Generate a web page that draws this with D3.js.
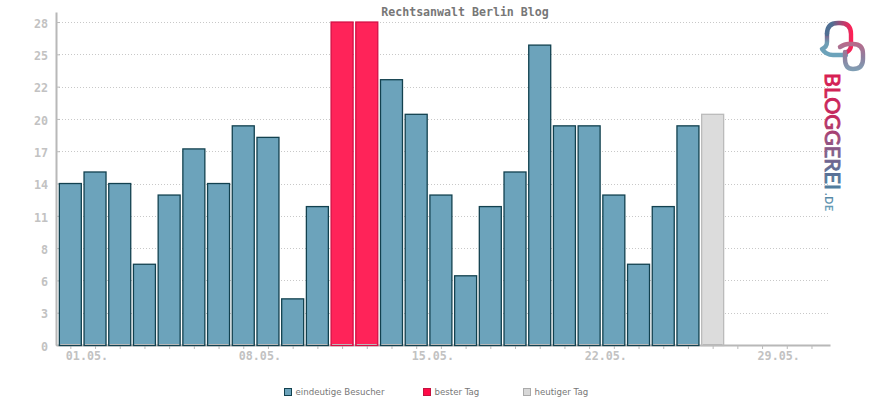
<!DOCTYPE html>
<html>
<head>
<meta charset="utf-8">
<title>Rechtsanwalt Berlin Blog</title>
<script src="https://cdn.jsdelivr.net/npm/d3@7"></script>
<style>
  body { margin: 0; background: #fff; }
  svg { display: block; }
  .tickText { font-family: "DejaVu Sans Mono", monospace; font-weight: bold; font-size: 11.7px; fill: #c2c2c2; }
  .legendText { font-family: "DejaVu Sans", sans-serif; font-size: 8.65px; fill: #777; }
</style>
</head>
<body>
<div class="chart"></div>
<script>
var svgWidth = 870;
var svgHeight = 400;

// Visitors per day in May
var visitors = [14, 15, 14, 7, 13, 17, 14, 19, 18, 4, 12, 28, 28, 23, 20, 13, 6, 12, 15, 26, 19, 19, 13, 7, 12, 19, 20];
var bestDay = 28;
var today = 27;

var barData = visitors.map((v, i) => ({
    day: i + 1,
    value: v,
    kind: i + 1 === today ? "today" : (v === bestDay ? "best" : "normal")
}));

var colors = {
    normal: { fill: "#6ca3bb", stroke: "#12414f" },
    best: { fill: "#ff2359", stroke: "#d30f45" },
    today: { fill: "#dcdcdc", stroke: "#bbb" }
};

var svg = d3.select(".chart")
    .append("svg")
    .attr("width", svgWidth)
    .attr("height", svgHeight);

// Scales
var xScale = d3.scaleLinear().domain([0.42, 31.75]).range([56, 830]);
var yScale = d3.scaleLinear().domain([0, 28.87]).range([345, 12]);

var yTicks = d3.range(0, 11).map(i => i * 2.8);
var barWidth = (xScale(2) - xScale(1)) * 0.89;

// Grid lines
svg.append("g").selectAll("line")
    .data(yTicks.slice(1))
    .join("line")
    .attr("x1", xScale.range()[0] + 3)
    .attr("x2", xScale.range()[1] - 1)
    .attr("y1", d => Math.round(yScale(d)) + 0.5)
    .attr("y2", d => Math.round(yScale(d)) + 0.5)
    .attr("stroke", "#c8c8c8")
    .attr("stroke-dasharray", "1 2");

// Axes
var leftAxis = d3.axisLeft(yScale)
    .tickValues(yTicks)
    .tickFormat(d3.format(".0f"))
    .tickSizeInner(-4)
    .tickSizeOuter(0)
    .tickPadding(8);

var bottomAxis = d3.axisBottom(xScale)
    .tickValues(d3.range(1, 32))
    .tickFormat(d => (d % 7 === 1 ? d3.format("02")(d) + ".05." : ""))
    .tickSizeInner(4)
    .tickSizeOuter(0)
    .tickPadding(3);

var yAxisGroup = svg.append("g")
    .attr("transform", "translate(56, 0)")
    .call(leftAxis);

var xAxisGroup = svg.append("g")
    .attr("transform", "translate(0, 345)")
    .call(bottomAxis);

[yAxisGroup, xAxisGroup].forEach(g => {
    g.selectAll(".domain").attr("stroke", "#b8b8b8").attr("stroke-width", 2);
    g.selectAll(".tick line").attr("stroke", "#bbb");
    g.selectAll("text").attr("class", "tickText").attr("font-family", null).attr("font-size", null);
});
yAxisGroup.selectAll("text").attr("dy", "0.62em").attr("y", -2);
xAxisGroup.selectAll("text").attr("text-anchor", "start").attr("dx", -5);

// Bars
var bars = svg.append("g").selectAll("rect")
    .data(barData)
    .join("rect")
    .attr("x", d => xScale(d.day) - barWidth / 2)
    .attr("y", d => yScale(d.value))
    .attr("width", barWidth)
    .attr("height", d => yScale(0) - yScale(d.value) + 0.5)
    .attr("fill", d => colors[d.kind].fill)
    .attr("stroke", d => colors[d.kind].stroke)
    .attr("stroke-width", 1.3);

// The axis line shows through at the foot of each bar
svg.append("g").selectAll("line")
    .data(barData)
    .join("line")
    .attr("x1", d => xScale(d.day) - barWidth / 2 + 1)
    .attr("x2", d => xScale(d.day) + barWidth / 2 - 1)
    .attr("y1", yScale(0) - 0.5)
    .attr("y2", yScale(0) - 0.5)
    .attr("stroke", "#b8b8b8");

// Title
svg.append("text")
    .attr("x", 465)
    .attr("y", 16)
    .attr("text-anchor", "middle")
    .attr("font-family", "DejaVu Sans Mono, monospace")
    .attr("font-weight", "bold")
    .attr("font-size", 11.6)
    .attr("fill", "#777")
    .text("Rechtsanwalt Berlin Blog");

// Legend
var legend = [
    { label: "eindeutige Besucher", x: 284, fill: "#6ca3bb", stroke: "#12414f" },
    { label: "bester Tag", x: 423, fill: "#ff0a47", stroke: "#c4123f" },
    { label: "heutiger Tag", x: 523, fill: "#d8d8d8", stroke: "#aaa" }
];
var legendItems = svg.append("g").selectAll("g")
    .data(legend)
    .join("g")
    .attr("transform", d => `translate(${d.x}, 388)`);
legendItems.append("rect")
    .attr("x", 0.5).attr("y", 0.5)
    .attr("width", 7).attr("height", 7)
    .attr("fill", d => d.fill)
    .attr("stroke", d => d.stroke);
legendItems.append("text")
    .attr("class", "legendText")
    .attr("x", 11.5)
    .attr("y", 7)
    .text(d => d.label);

// Logo
var defs = svg.append("defs");
function gradient(id, x1, y1, x2, y2, stops) {
    var g = defs.append("linearGradient")
        .attr("id", id)
        .attr("gradientUnits", "userSpaceOnUse")
        .attr("x1", x1).attr("y1", y1).attr("x2", x2).attr("y2", y2);
    stops.forEach(s => g.append("stop").attr("offset", s[0]).attr("stop-color", s[1]));
}
var wordStops = [[0, "#d81f52"], [0.38, "#c2295f"], [0.62, "#8f5585"], [0.85, "#5a6f96"], [1, "#4f7f9f"]];
gradient("logoLeft", 0, 54, 0, 22, [[0, "#6ca3bb"], [0.35, "#6f9db4"], [0.6, "#7a5f8a"], [1, "#4f6f93"]]);
gradient("logoArch", 832, 0, 852, 0, [[0, "#4f6f93"], [0.55, "#b5406f"], [1, "#ff1f55"]]);
gradient("logoPill", 0, 43, 0, 71, [[0, "#b86a8a"], [0.5, "#8f7f9f"], [1, "#7fa0b5"]]);
// the word is rotated, so its gradient runs along the text's own x
gradient("logoWord", 0, 0, 117, 0, wordStops);
gradient("logoDe", 0, 0, 18, 0, [[0, "#4f7f9f"], [1, "#6ca3bb"]]);

var logo = svg.append("g").attr("fill", "none").attr("stroke-width", 4.4).attr("stroke-linecap", "round");
logo.append("path")
    .attr("d", "M822,49 Q826,55 833,55 L846,55 M827,33 L827,42 Q827,47 822,49")
    .attr("stroke", "url(#logoLeft)");
logo.append("path")
    .attr("d", "M827,34 Q827,23 838,23 L840,23 Q851,23 851,34 L851,45 Q851,50 847,52")
    .attr("stroke", "url(#logoArch)");
logo.append("path")
    .attr("d", "M840,47 Q845,44 848,44 L853,44 Q863,44 863,54 L863,59 Q863,69 853,69 Q845,69 845,59 L845,52")
    .attr("stroke", "url(#logoPill)");

svg.append("text")
    .attr("transform", "translate(825, 73) rotate(90)")
    .attr("font-family", "Lato, sans-serif")
    .attr("font-size", 20.5)
    .attr("textLength", 117)
    .attr("lengthAdjust", "spacingAndGlyphs")
    .attr("fill", "url(#logoWord)")
    .attr("stroke", "url(#logoWord)")
    .attr("stroke-width", 0.9)
    .text("BLOGGEREI");
svg.append("text")
    .attr("transform", "translate(825, 193) rotate(90)")
    .attr("font-family", "Lato, sans-serif")
    .attr("font-weight", "bold")
    .attr("font-size", 10.5)
    .attr("textLength", 18)
    .attr("fill", "url(#logoDe)")
    .text(".DE");
</script>
</body>
</html>
